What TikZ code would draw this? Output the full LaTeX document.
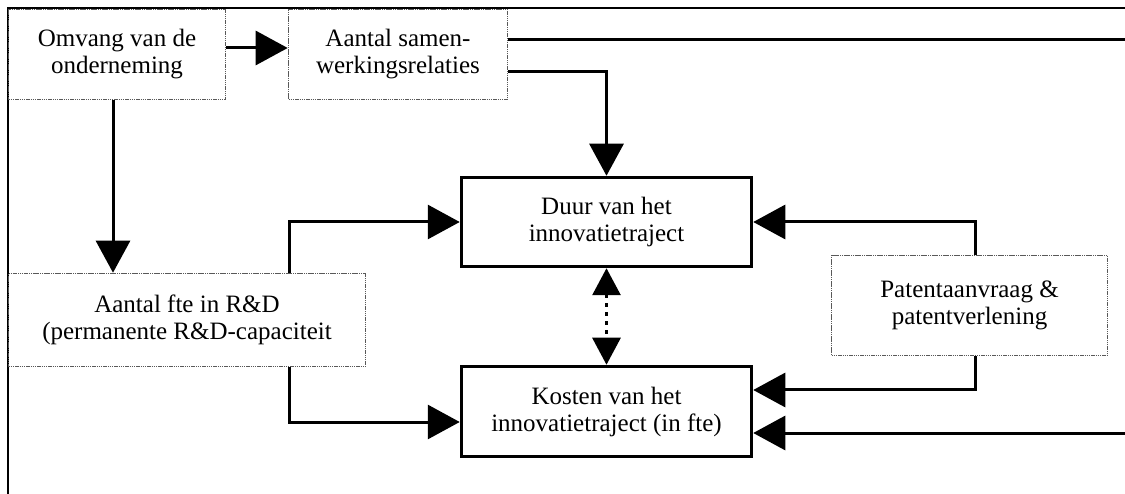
\documentclass[tikz,border=0pt]{standalone}
\usepackage{fontspec}
\setmainfont{Liberation Serif}
\usetikzlibrary{arrows.meta,calc}
\begin{document}
\begin{tikzpicture}[x=1pt,y=-1pt,
  label font/.style={font=\fontsize{25}{27}\selectfont},
  thinbox/.style={draw=black!65, line width=1.6pt, dash pattern=on 1.5pt off 0.7pt,
    align=center, inner sep=0pt, label font},
  thickbox/.style={draw=black, line width=3.5pt, align=center, inner sep=0pt, label font},
  link/.style={draw=black, line width=3pt},
  arr/.style={link, -{Triangle[length=32pt,width=34pt]}},
  dotlink/.style={draw=black, line width=3pt, dash pattern=on 4pt off 5pt,
    {Triangle[length=27pt,width=28pt]}-{Triangle[length=27pt,width=28pt]}},
  frame/.style={draw=black, line width=1.5pt}
]
\useasboundingbox (0,0) rectangle (1125,494);

% outer frame (top and left only)
\draw[frame] (8,494) -- (8,8) -- (1125,8);

% boxes
\node[thinbox, minimum width=217pt, minimum height=90pt] (omvang) at (117,54.5)
  {Omvang van de\\onderneming};
\node[thinbox, minimum width=219pt, minimum height=90pt] (samen) at (398,54.5)
  {Aantal samen-\\werkingsrelaties};
\node[thickbox, minimum width=290pt, minimum height=89pt] (duur) at (606.5,222)
  {Duur van het\\innovatietraject};
\node[thickbox, minimum width=290pt, minimum height=90pt] (kosten) at (606.5,411.5)
  {Kosten van het\\innovatietraject (in fte)};
\node[thinbox, minimum width=357pt, minimum height=93pt] (fte) at (187,320)
  {Aantal fte in R\&D\\(permanente R\&D-capaciteit};
\node[thinbox, minimum width=276pt, minimum height=100pt] (patent) at (969.5,305.5)
  {Patentaanvraag \&\\patentverlening};

% helper coordinates for connector positions
\coordinate (y48) at (0,48);
\coordinate (y72) at (0,72);
\coordinate (y390) at (0,390);
\coordinate (y422) at (0,422);
\coordinate (x113) at (113,0);
\coordinate (x289) at (289,0);
\coordinate (x975) at (975,0);
\coordinate (rtop) at (1125,40);
\coordinate (rbot) at (1125,433);

% connectors
\draw[arr] (omvang.east |- y48) -- (samen.west |- y48);
\draw[link] (samen.east |- rtop) -- (rtop);
\draw[arr] (samen.east |- y72) -| (duur.north);
\draw[arr] (omvang.south -| x113) -- (fte.north -| x113);
\draw[arr] (fte.north -| x289) |- (duur.west);
\draw[arr] (fte.south -| x289) |- (kosten.west |- y422);
\draw[arr] (patent.north -| x975) |- (duur.east);
\draw[arr] (patent.south -| x975) |- (kosten.east |- y390);
\draw[arr] (rbot) -- (kosten.east |- rbot);
\draw[dotlink] (duur.south) -- (kosten.north);
\end{tikzpicture}
\end{document}
